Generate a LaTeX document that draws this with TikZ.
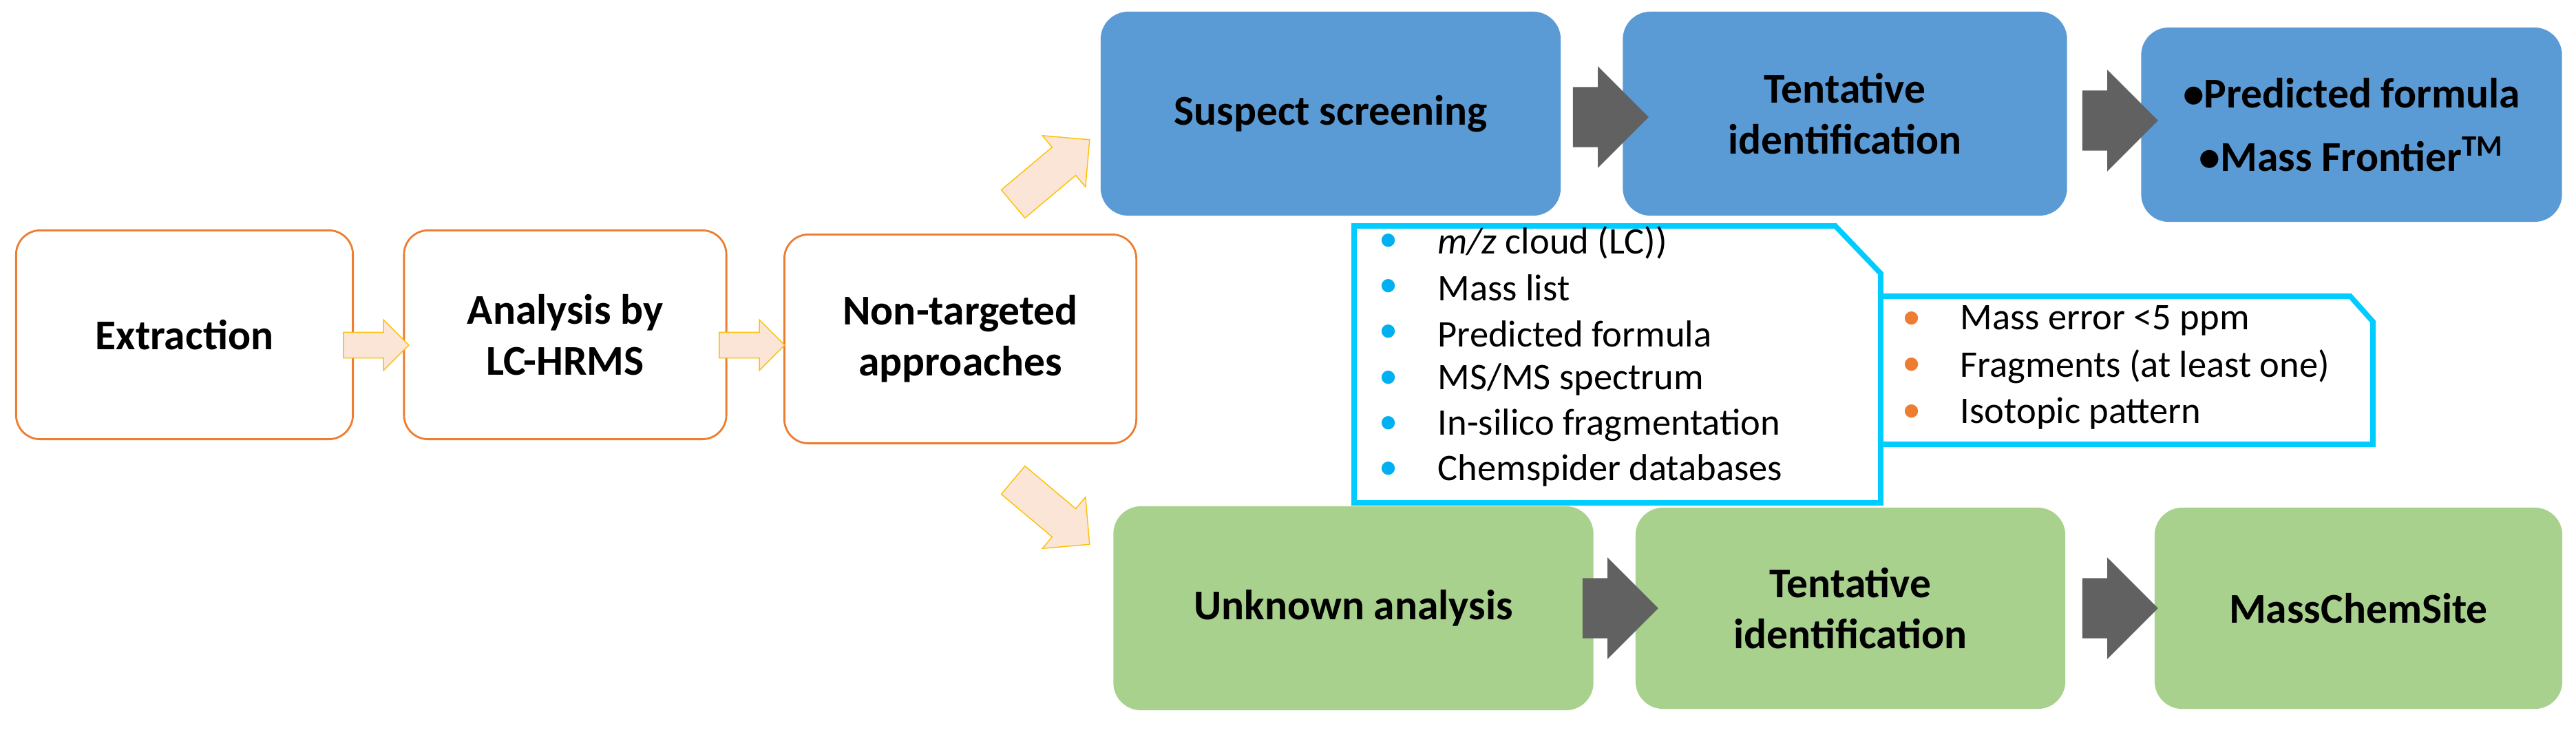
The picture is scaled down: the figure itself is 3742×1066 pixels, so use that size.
\documentclass[tikz,border=0pt]{standalone}
\usepackage{fontspec}
\setmainfont{Carlito}
\usetikzlibrary{shapes.arrows, positioning}
\definecolor{boxline}{HTML}{ED7D31}
\definecolor{arrowfill}{HTML}{FBE5D6}
\definecolor{arrowline}{HTML}{FFC000}
\definecolor{suspect}{HTML}{5B9BD5}
\definecolor{unknown}{HTML}{A9D18E}
\definecolor{callout}{HTML}{00CCFF}
\definecolor{dotblue}{HTML}{00B0F0}
\tikzset{stage/.style={draw=boxline, thick, rounded corners=0.35cm, align=center, font=\fontsize{17.5}{21}\selectfont\bfseries, fill=white}}
\tikzset{result/.style={rounded corners=0.4cm, align=center, font=\fontsize{17.5}{21}\selectfont\bfseries}}
\tikzset{small arrow/.style={single arrow, draw=arrowline, fill=arrowfill, single arrow head extend=0.18cm, minimum height=0.95cm, inner xsep=0pt, inner ysep=0.18cm}}
\tikzset{grey arrow/.style={single arrow, fill=black!62, single arrow head extend=0.3cm, minimum height=1.1cm, inner xsep=0pt, inner ysep=0.43cm}}
\tikzset{item/.style={anchor=west, inner sep=0pt, font=\fontsize{15.5}{18}\selectfont}}
\begin{document}
\begin{tikzpicture}[x=0.01cm, y=-0.01cm]
		\useasboundingbox (0,0) rectangle (3742,1066);
		% Workflow
		\node[stage, minimum width=4.89cm, minimum height=3.03cm] (extract) at (268,486) {Extraction};
		\node[stage, minimum width=4.68cm, minimum height=3.03cm] (analysis) at (821,486) {Analysis by\\LC-HRMS};
		\node[stage, minimum width=5.11cm, minimum height=3.03cm] (nontarget) at (1395,492) {Non-targeted\\approaches};
		\node[small arrow] (a1) at (537,501) {};
		\node[small arrow] (a2) at (1083,501) {};
		\node[small arrow, rotate=40, minimum height=1.45cm, inner ysep=0.26cm, single arrow head extend=0.22cm] (up) at (1517,258) {};
		\node[small arrow, rotate=-40, minimum height=1.45cm, inner ysep=0.26cm, single arrow head extend=0.22cm] (down) at (1517,735) {};

		% Suspect screening
		\node[result, fill=suspect, minimum width=6.68cm, minimum height=2.96cm] (suspect) at (1933,165) {Suspect screening};
		\node[result, fill=suspect, minimum width=6.45cm, minimum height=2.96cm] (tent1) at (2680,165) {Tentative\\identification};
		\node[result, fill=suspect, minimum width=6.11cm, minimum height=2.82cm, font=\fontsize{17.5}{26}\selectfont\bfseries] (pred) at (3416,181) {\textbullet Predicted formula\\\textbullet Mass Frontier\textsuperscript{TM}};
		\node[grey arrow] (g1) at (2318,170) {};
		\node[grey arrow] (g2) at (3058,175) {};

		% Unknown analysis
		\node[result, fill=unknown, minimum width=6.97cm, minimum height=2.96cm] (unknown) at (1966,883) {Unknown analysis};
		\node[result, fill=unknown, minimum width=6.24cm, minimum height=2.92cm] (tent2) at (2688,883) {Tentative\\identification};
		\node[result, fill=unknown, minimum width=5.92cm, minimum height=2.92cm] (masschem) at (3426,883) {MassChemSite};
		\node[grey arrow] (g3) at (2332,883) {};
		\node[grey arrow] (g4) at (3058,883) {};

		% Callouts
		\draw[callout, line width=2.2pt, fill=white] (1967,328) -- (2666,328) -- (2732,397) -- (2732,730) -- (1967,730) -- cycle;
		\draw[callout, line width=2.2pt, fill=white] (2732,430) -- (3414,430) -- (3447,467) -- (3447,645) -- (2732,645) -- cycle;
		\foreach \txt [count=\i] in {\textit{m/z} cloud (LC)), Mass list, Predicted formula, MS/MS spectrum, In-silico fragmentation, Chemspider databases}{
			\node[item, text=dotblue] (b\i) at (2003,{352+66.2*(\i-1)}) {\textbullet};
			\node[item] (l\i) at (2088,{352+66.2*(\i-1)}) {\txt};
		}
		\foreach \txt [count=\i] in {Mass error <5 ppm, Fragments (at least one), Isotopic pattern}{
			\node[item, text=boxline] (c\i) at (2763,{465+67.5*(\i-1)}) {\textbullet};
			\node[item] (r\i) at (2847,{465+67.5*(\i-1)}) {\txt};
		}
	\end{tikzpicture}
\end{document}
